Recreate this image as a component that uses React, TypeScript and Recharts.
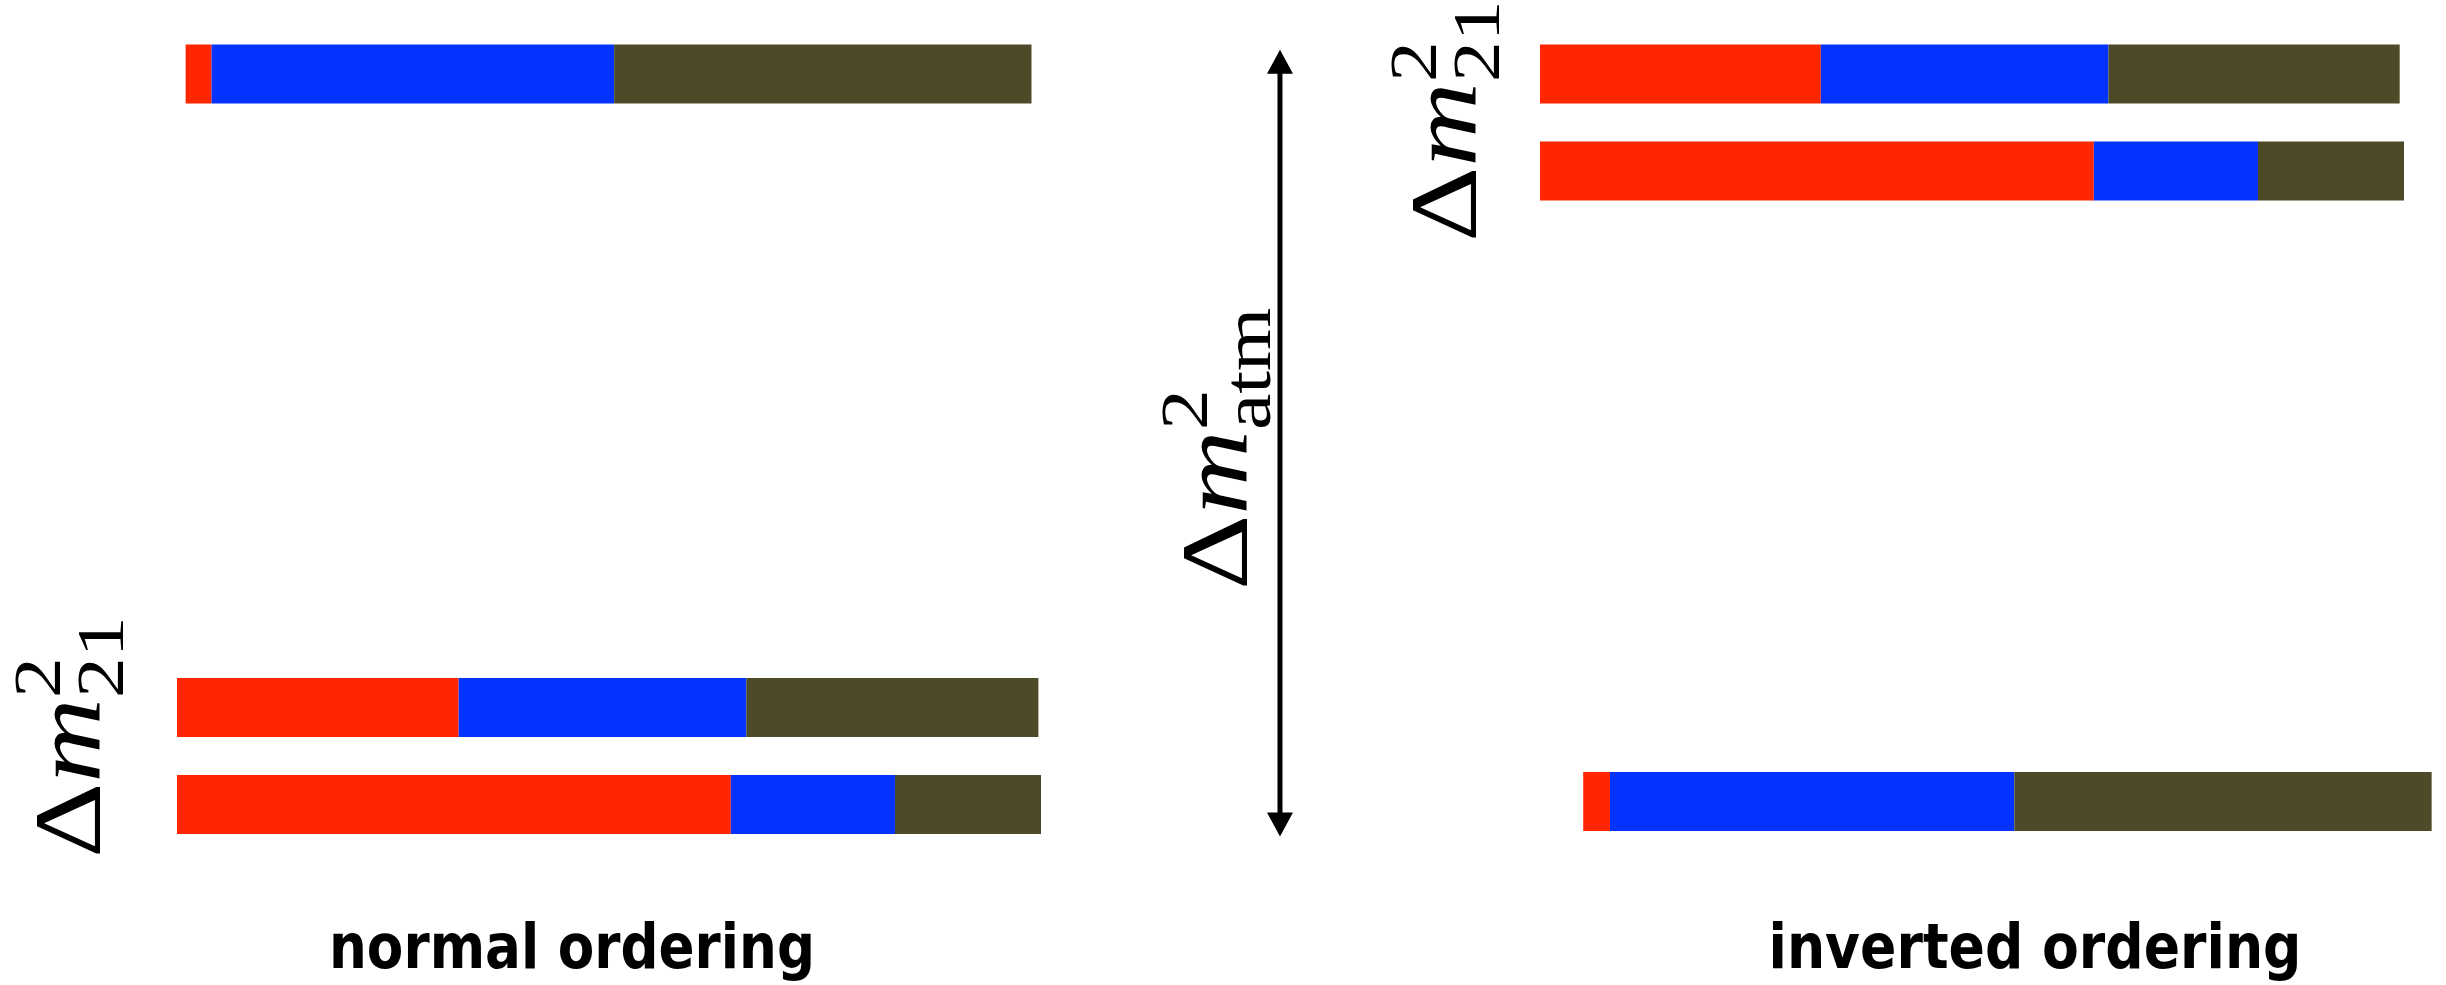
import { BarChart, Bar, XAxis, YAxis, ReferenceLine } from "recharts";

// flavour content of each mass eigenstate, rows listed bottom to top
// levels: schematic mass² position of each state (arbitrary units)
const normalStates = ["ν1", "ν2", "ν3"];
const normalLevels = [1, 2, 8.53];
const normalE = [0.641, 0.326, 0.03];
const normalMu = [0.19, 0.333, 0.466];
const normalTau = [0.169, 0.338, 0.483];

const invertedStates = ["ν3", "ν1", "ν2"];
const invertedLevels = [1, 7.5, 8.5];
const invertedE = [0.031, 0.641, 0.325];
const invertedMu = [0.468, 0.19, 0.333];
const invertedTau = [0.483, 0.169, 0.337];

// layout only: small left indent of some rows (x units) and the atm arrow
const normalIndent = [0, 0, 0.01];
const invertedIndent = [0.05, 0, 0];
const arrowX = 1.2766;
const arrowSpan = [0.67, 8.78];

const RED = "#FF2600";
const BLUE = "#0433FF";
const OLIVE = "#4D4A27";

const X_MAX = 1.04;
const Y_DOMAIN = [-0.5, 9.2];
const BAR = 59;

const buildRows = (states: string[], levels: number[], e: number[], mu: number[], tau: number[], indent: number[]) =>
    states.map((state, i) => ({ state, level: levels[i], indent: indent[i], e: e[i], mu: mu[i], tau: tau[i] }));

const normalRows = buildRows(normalStates, normalLevels, normalE, normalMu, normalTau, normalIndent);
const invertedRows = buildRows(invertedStates, invertedLevels, invertedE, invertedMu, invertedTau, invertedIndent);

const mathFont = "'Liberation Serif', 'DejaVu Serif', serif";
const labelFont = "'Comic Sans MS', 'DejaVu Sans', sans-serif";

// rotated Δm²_xx label, (x, y) = baseline / start of text on the page
// stretched a bit along the text so Times looks closer to the wide TeX glyphs
function MassLabel({ x, y, sub }: { x: number; y: number; sub: string }) {
    return (
        <g transform={`translate(${x},${y}) rotate(-90) scale(1.22,1)`}>
            <text x={0} y={0} fontFamily={mathFont} fontSize={96} fill="#000">
                <tspan>Δ</tspan>
                <tspan fontStyle="italic">m</tspan>
                <tspan fontSize={67} dy={-40}>2</tspan>
                <tspan fontSize={67} dx={-33.5} dy={63}>{sub}</tspan>
            </text>
        </g>
    );
}

function ArrowShape(props: any) {
    const { x1, y1, x2, y2 } = props;
    const top = Math.min(y1, y2);
    const bottom = Math.max(y1, y2);
    const head = 24;
    const half = 13;
    return (
        <g>
            <line x1={x1} y1={top + head - 2} x2={x2} y2={bottom - head + 2} stroke="#000" strokeWidth={5} />
            <polygon points={`${x1},${top} ${x1 - half},${top + head} ${x1 + half},${top + head}`} fill="#000" />
            <polygon points={`${x1},${bottom} ${x1 - half},${bottom - head} ${x1 + half},${bottom - head}`} fill="#000" />
        </g>
    );
}

function Segments() {
    return [
        <Bar key="indent" dataKey="indent" stackId="s" fill="transparent" barSize={BAR} isAnimationActive={false} />,
        <Bar key="e" dataKey="e" stackId="s" fill={RED} barSize={BAR} isAnimationActive={false} />,
        <Bar key="mu" dataKey="mu" stackId="s" fill={BLUE} barSize={BAR} isAnimationActive={false} />,
        <Bar key="tau" dataKey="tau" stackId="s" fill={OLIVE} barSize={BAR} isAnimationActive={false} />,
    ];
}

export default function App() {
    return (
        <div style={{ position: "absolute", left: 0, top: 0, width: 2446, height: 985, background: "#fff" }}>
            <div style={{ position: "absolute", left: 0, top: 0 }}>
                <BarChart
                    width={1330}
                    height={985}
                    data={normalRows}
                    layout="vertical"
                    margin={{ top: 9.1, right: 254.44, bottom: 35, left: 177 }}
                >
                    <XAxis type="number" domain={[0, X_MAX]} hide />
                    <YAxis type="number" dataKey="level" domain={Y_DOMAIN} reversed hide />
                    {Segments()}
                    <ReferenceLine
                        segment={[
                            { x: arrowX, y: arrowSpan[0] },
                            { x: arrowX, y: arrowSpan[1] },
                        ]}
                        ifOverflow="visible"
                        shape={ArrowShape}
                    />
                    <MassLabel x={100} y={858} sub="21" />
                    <MassLabel x={1247} y={590} sub="atm" />
                    <text
                        x={572}
                        y={968}
                        textAnchor="middle"
                        fontFamily={labelFont}
                        fontWeight="bold"
                        fontSize={62}
                        textLength={486}
                        lengthAdjust="spacingAndGlyphs"
                        fill="#000"
                    >
                        normal ordering
                    </text>
                </BarChart>
            </div>
            <div style={{ position: "absolute", left: 1330, top: 0 }}>
                <BarChart
                    width={1116}
                    height={985}
                    data={invertedRows}
                    layout="vertical"
                    margin={{ top: 6.1, right: 7.44, bottom: 38, left: 210 }}
                >
                    <XAxis type="number" domain={[0, X_MAX]} hide />
                    <YAxis type="number" dataKey="level" domain={Y_DOMAIN} reversed hide />
                    {Segments()}
                    <MassLabel x={146} y={242} sub="21" />
                    <text
                        x={705}
                        y={968}
                        textAnchor="middle"
                        fontFamily={labelFont}
                        fontWeight="bold"
                        fontSize={62}
                        textLength={533}
                        lengthAdjust="spacingAndGlyphs"
                        fill="#000"
                    >
                        inverted ordering
                    </text>
                </BarChart>
            </div>
        </div>
    );
}
